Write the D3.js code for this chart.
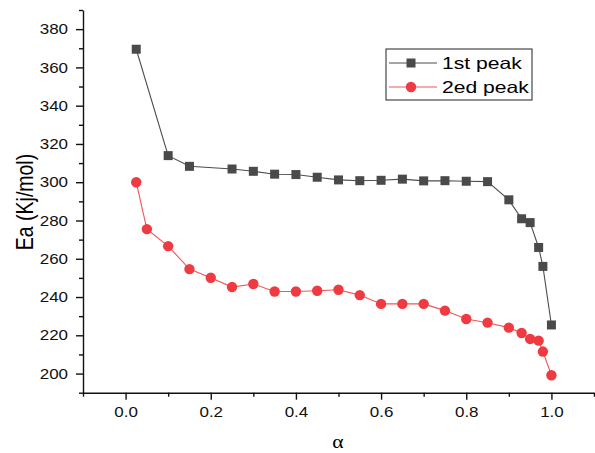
<!DOCTYPE html>
<html lang="en">
<head>
<meta charset="UTF-8" />
<title>Ea vs alpha</title>
<style>
  body { margin: 0; background: #fff; font-family: "Liberation Sans", Arial, sans-serif; }
  .axis text { font: 14.5px "Liberation Sans", Arial, sans-serif; fill: #111; }
  .axis path, .axis line { stroke: #111; stroke-width: 1.4px; }
</style>
</head>
<body>
<svg width="595" height="453"></svg>
<script src="https://d3js.org/d3.v7.min.js"></script>
<script>
// data
const alpha1 = [0.025, 0.1, 0.15, 0.25, 0.3, 0.35, 0.4, 0.45, 0.5, 0.55, 0.6, 0.65, 0.7, 0.75, 0.8, 0.85, 0.9, 0.93, 0.95, 0.97, 0.98, 1.0];
const peak1 = [369.5, 313.9, 308.3, 306.9, 305.7, 304.2, 304.0, 302.6, 301.2, 300.8, 301.0, 301.6, 300.7, 300.8, 300.5, 300.3, 290.8, 280.9, 278.9, 265.9, 256.0, 225.4];
const alpha2 = [0.025, 0.05, 0.1, 0.15, 0.2, 0.25, 0.3, 0.35, 0.4, 0.45, 0.5, 0.55, 0.6, 0.65, 0.7, 0.75, 0.8, 0.85, 0.9, 0.93, 0.95, 0.97, 0.98, 1.0];
const peak2 = [300.0, 275.5, 266.6, 254.6, 250.1, 245.2, 246.8, 242.9, 242.9, 243.3, 243.8, 241.0, 236.4, 236.4, 236.4, 232.9, 228.5, 226.6, 224.0, 221.2, 218.1, 217.2, 211.5, 199.1];
const xTicks = [0, 0.2, 0.4, 0.6, 0.8, 1.0];
const xMinor = [-0.1, 0.1, 0.3, 0.5, 0.7, 0.9, 1.1];
const yTicks = [200, 220, 240, 260, 280, 300, 320, 340, 360, 380];
const yMinor = [190, 210, 230, 250, 270, 290, 310, 330, 350, 370, 390];
const seriesNames = ['1st peak', '2ed peak'];

// the picture is stretched sideways, so text is widened a bit
const SX = 1.17;

const svg = d3.select('svg');
const x = d3.scaleLinear().domain([-0.1, 1.1]).range([83, 594]);
const y = d3.scaleLinear().domain([190, 390]).range([392.7, 10]);

// minor ticks
svg.append('g').attr('class', 'axis')
    .attr('transform', 'translate(0,392.7)')
    .call(d3.axisBottom(x).tickValues(xMinor).tickSize(4).tickFormat(''))
    .call((g) => g.select('.domain').remove());
svg.append('g').attr('class', 'axis')
    .attr('transform', 'translate(83,0)')
    .call(d3.axisLeft(y).tickValues(yMinor).tickSize(4).tickFormat(''))
    .call((g) => g.select('.domain').remove());

// major ticks + axis lines
svg.append('g').attr('class', 'axis')
    .attr('transform', 'translate(0,392.7)')
    .call(d3.axisBottom(x).tickValues(xTicks).tickSize(7).tickSizeOuter(0).tickPadding(7).tickFormat(d3.format('.1f')))
    .call((g) => g.selectAll('.tick text').attr('transform', `scale(${SX},1)`));
svg.append('g').attr('class', 'axis')
    .attr('transform', 'translate(83,0)')
    .call(d3.axisLeft(y).tickValues(yTicks).tickSize(7).tickSizeOuter(0))
    .call((g) => g.selectAll('.tick text').attr('x', -15 / SX).attr('transform', `scale(${SX},1)`));

// axis titles
svg.append('text')
    .attr('transform', `translate(33,202) scale(1.2,1) rotate(-90)`)
    .attr('text-anchor', 'middle')
    .style('font', '19.5px "Liberation Sans", Arial, sans-serif')
    .text('Ea (Kj/mol)');
svg.append('text')
    .attr('transform', `translate(338,448) scale(1.2,1)`)
    .attr('text-anchor', 'middle')
    .style('font', '18px "Liberation Serif", "DejaVu Serif", serif')
    .text('α');

const line = d3.line().x((d) => x(d[0])).y((d) => y(d[1]));
const s1 = alpha1.map((a, i) => [a, peak1[i]]);
const s2 = alpha2.map((a, i) => [a, peak2[i]]);

svg.append('path').datum(s1).attr('d', line)
    .attr('fill', 'none').attr('stroke', '#4d4d4d').attr('stroke-width', 1.1);
svg.append('path').datum(s2).attr('d', line)
    .attr('fill', 'none').attr('stroke', '#f0555a').attr('stroke-width', 1.1);

svg.append('g').selectAll('rect').data(s1).join('rect')
    .attr('x', (d) => x(d[0]) - 4.5).attr('y', (d) => y(d[1]) - 4.5)
    .attr('width', 9).attr('height', 9)
    .attr('fill', '#4a4a4a');
svg.append('g').selectAll('circle').data(s2).join('circle')
    .attr('cx', (d) => x(d[0])).attr('cy', (d) => y(d[1]))
    .attr('r', 5.2)
    .attr('fill', '#ee3a40');

// legend
const lg = svg.append('g');
lg.append('rect').attr('x', 386).attr('y', 49).attr('width', 146).attr('height', 51)
    .attr('fill', '#fff').attr('stroke', '#222').attr('stroke-width', 1);
seriesNames.forEach((name, i) => {
    const cy = 63 + i * 24;
    lg.append('line').attr('x1', 389).attr('x2', 437).attr('y1', cy).attr('y2', cy)
        .attr('stroke', i === 0 ? '#4d4d4d' : '#f0555a').attr('stroke-width', 1.1);
    if (i === 0) {
        lg.append('rect').attr('x', 406.5).attr('y', cy - 4.5).attr('width', 9).attr('height', 9).attr('fill', '#4a4a4a');
    } else {
        lg.append('circle').attr('cx', 411).attr('cy', cy).attr('r', 5.2).attr('fill', '#ee3a40');
    }
    lg.append('text')
        .attr('transform', `translate(442,${cy + 6}) scale(1.28,1)`)
        .style('font', '16.5px "Liberation Sans", Arial, sans-serif')
        .text(name);
});
</script>
</body>
</html>
